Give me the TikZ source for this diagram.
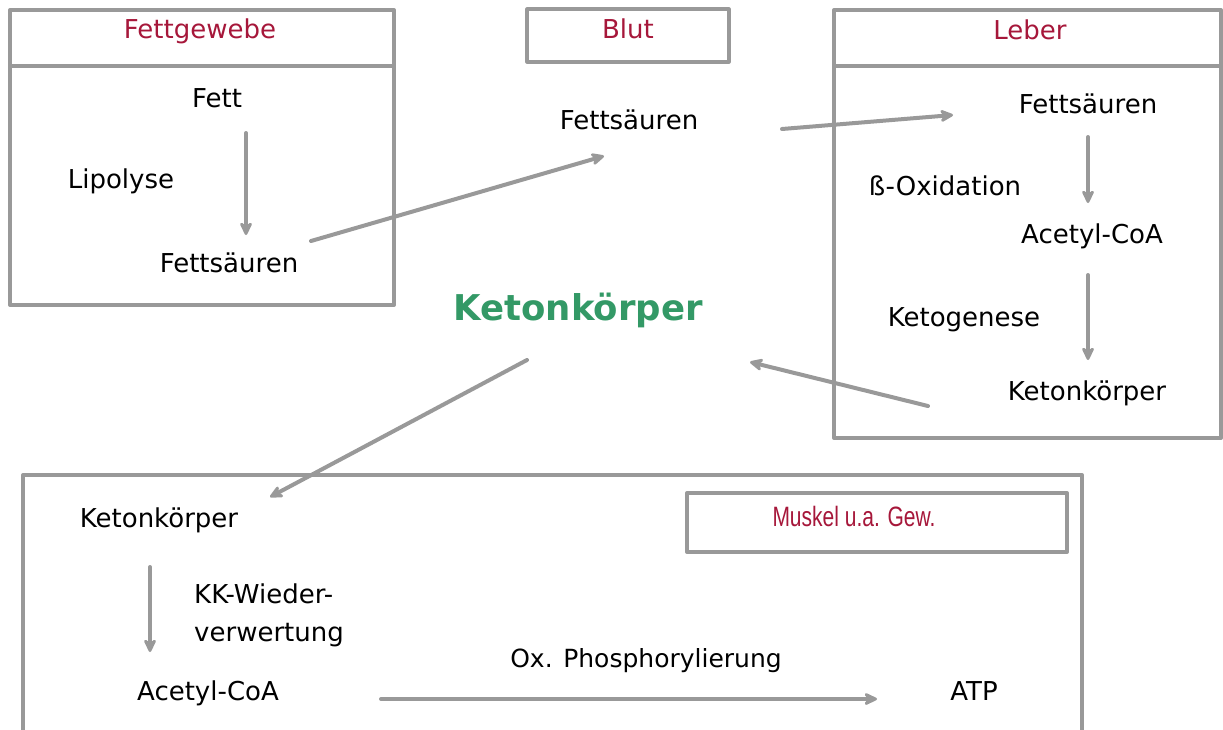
\documentclass[tikz,border=0pt]{standalone}
\usepackage{fontspec}
\setmainfont{DejaVu Sans}
\newfontfamily\narrowfont[FakeStretch=0.75]{Liberation Sans}
\usetikzlibrary{arrows.meta}
\definecolor{framegray}{HTML}{999999}
\definecolor{organred}{HTML}{A6173A}
\definecolor{ketogreen}{HTML}{339966}

\begin{document}
\begin{tikzpicture}[x=1pt,y=-1pt,
  frame/.style={draw=framegray,line width=4pt,line join=round},
  thinframe/.style={draw=framegray,line width=3.2pt,line join=round},
  flow/.style={draw=framegray,line width=4pt,line cap=round,
    -{Stealth[length=17pt,width=16pt,inset=6pt,round]}},
  txt/.style={font=\fontsize{26}{30}\selectfont,inner sep=0pt,anchor=base,text=black},
  organ/.style={txt,text=organred},
]
\useasboundingbox (0,0) rectangle (1223,729);
\clip (0,0) rectangle (1223,729);

% --- Fettgewebe ---
\draw[frame] (10,10) rectangle (394,305);
\draw[frame] (10,66) -- (394,66);
\node[organ] (fgw) at (200,38) {Fettgewebe};
\node[txt] (fett) at (217,107) {Fett};
\node[txt] (lipo) at (121,188) {Lipolyse};
\node[txt] (fsA) at (229,272) {Fettsäuren};
\coordinate (fettOut) at (246,133);
\coordinate (fsAin) at (246,235);
\draw[flow] (fettOut) -- (fsAin);

% --- Blut ---
\draw[thinframe] (527,9) rectangle (729,62);
\node[organ] (blut) at (628,38) {Blut};
\node[txt] (fsB) at (629,129) {Fettsäuren};
\coordinate (fsAout) at (311,241);
\coordinate (fsBin) at (604,156);
\draw[flow] (fsAout) -- (fsBin);

% --- Leber ---
\draw[frame] (834,10) rectangle (1221,438);
\draw[frame] (834,66) -- (1221,66);
\node[organ] (leber) at (1030,39) {Leber};
\node[txt] (fsL) at (1088,113) {Fettsäuren};
\node[txt] (boxid) at (945,195) {ß-Oxidation};
\node[txt] (acL) at (1092,243) {Acetyl-CoA};
\node[txt] (ketog) at (964,326) {Ketogenese};
\node[txt] (kkL) at (1087,400) {Ketonkörper};
\coordinate (fsBout) at (782,129);
\coordinate (fsLin) at (953,115);
\draw[flow] (fsBout) -- (fsLin);
\coordinate (fsLout) at (1088,137);
\coordinate (acLin) at (1088,203);
\draw[flow] (fsLout) -- (acLin);
\coordinate (acLout) at (1088,275);
\coordinate (kkLin) at (1088,360);
\draw[flow] (acLout) -- (kkLin);

% --- Ketonkörper im Blut ---
\node[font=\fontsize{35.5}{40}\selectfont\bfseries,text=ketogreen,inner sep=0pt,anchor=base]
  (kkB) at (578,320) {Ketonkörper};
\coordinate (kkLout) at (928,406);
\coordinate (kkBin) at (750,362);
\draw[flow] (kkLout) -- (kkBin);

% --- Muskel u.a. Gewebe ---
\draw[frame] (23,760) -- (23,475) -- (1082,475) -- (1082,760);
\draw[frame] (687,493) rectangle (1067,552);
\node[organ,font=\narrowfont\fontsize{28}{32}\selectfont] (musk) at (854,526) {Muskel u.a. Gew.};
\node[txt] (kkM) at (159,527) {Ketonkörper};
\node[txt,anchor=base west] (kkw) at (194,603) {KK-Wieder-};
\node[txt,anchor=base west] (verw) at (194,641) {verwertung};
\node[txt] (acM) at (208,700) {Acetyl-CoA};
\node[txt,font=\fontsize{25}{30}\selectfont] (oxp) at (646,667) {Ox. Phosphorylierung};
\node[txt] (atp) at (974,700) {ATP};
\coordinate (kkBout) at (527,360);
\coordinate (kkMin) at (270,497);
\draw[flow] (kkBout) -- (kkMin);
\coordinate (kkMout) at (150,567);
\coordinate (acMin) at (150,652);
\draw[flow] (kkMout) -- (acMin);
\coordinate (acMout) at (381,699);
\coordinate (atpIn) at (877,699);
\draw[flow] (acMout) -- (atpIn);
\end{tikzpicture}
\end{document}
